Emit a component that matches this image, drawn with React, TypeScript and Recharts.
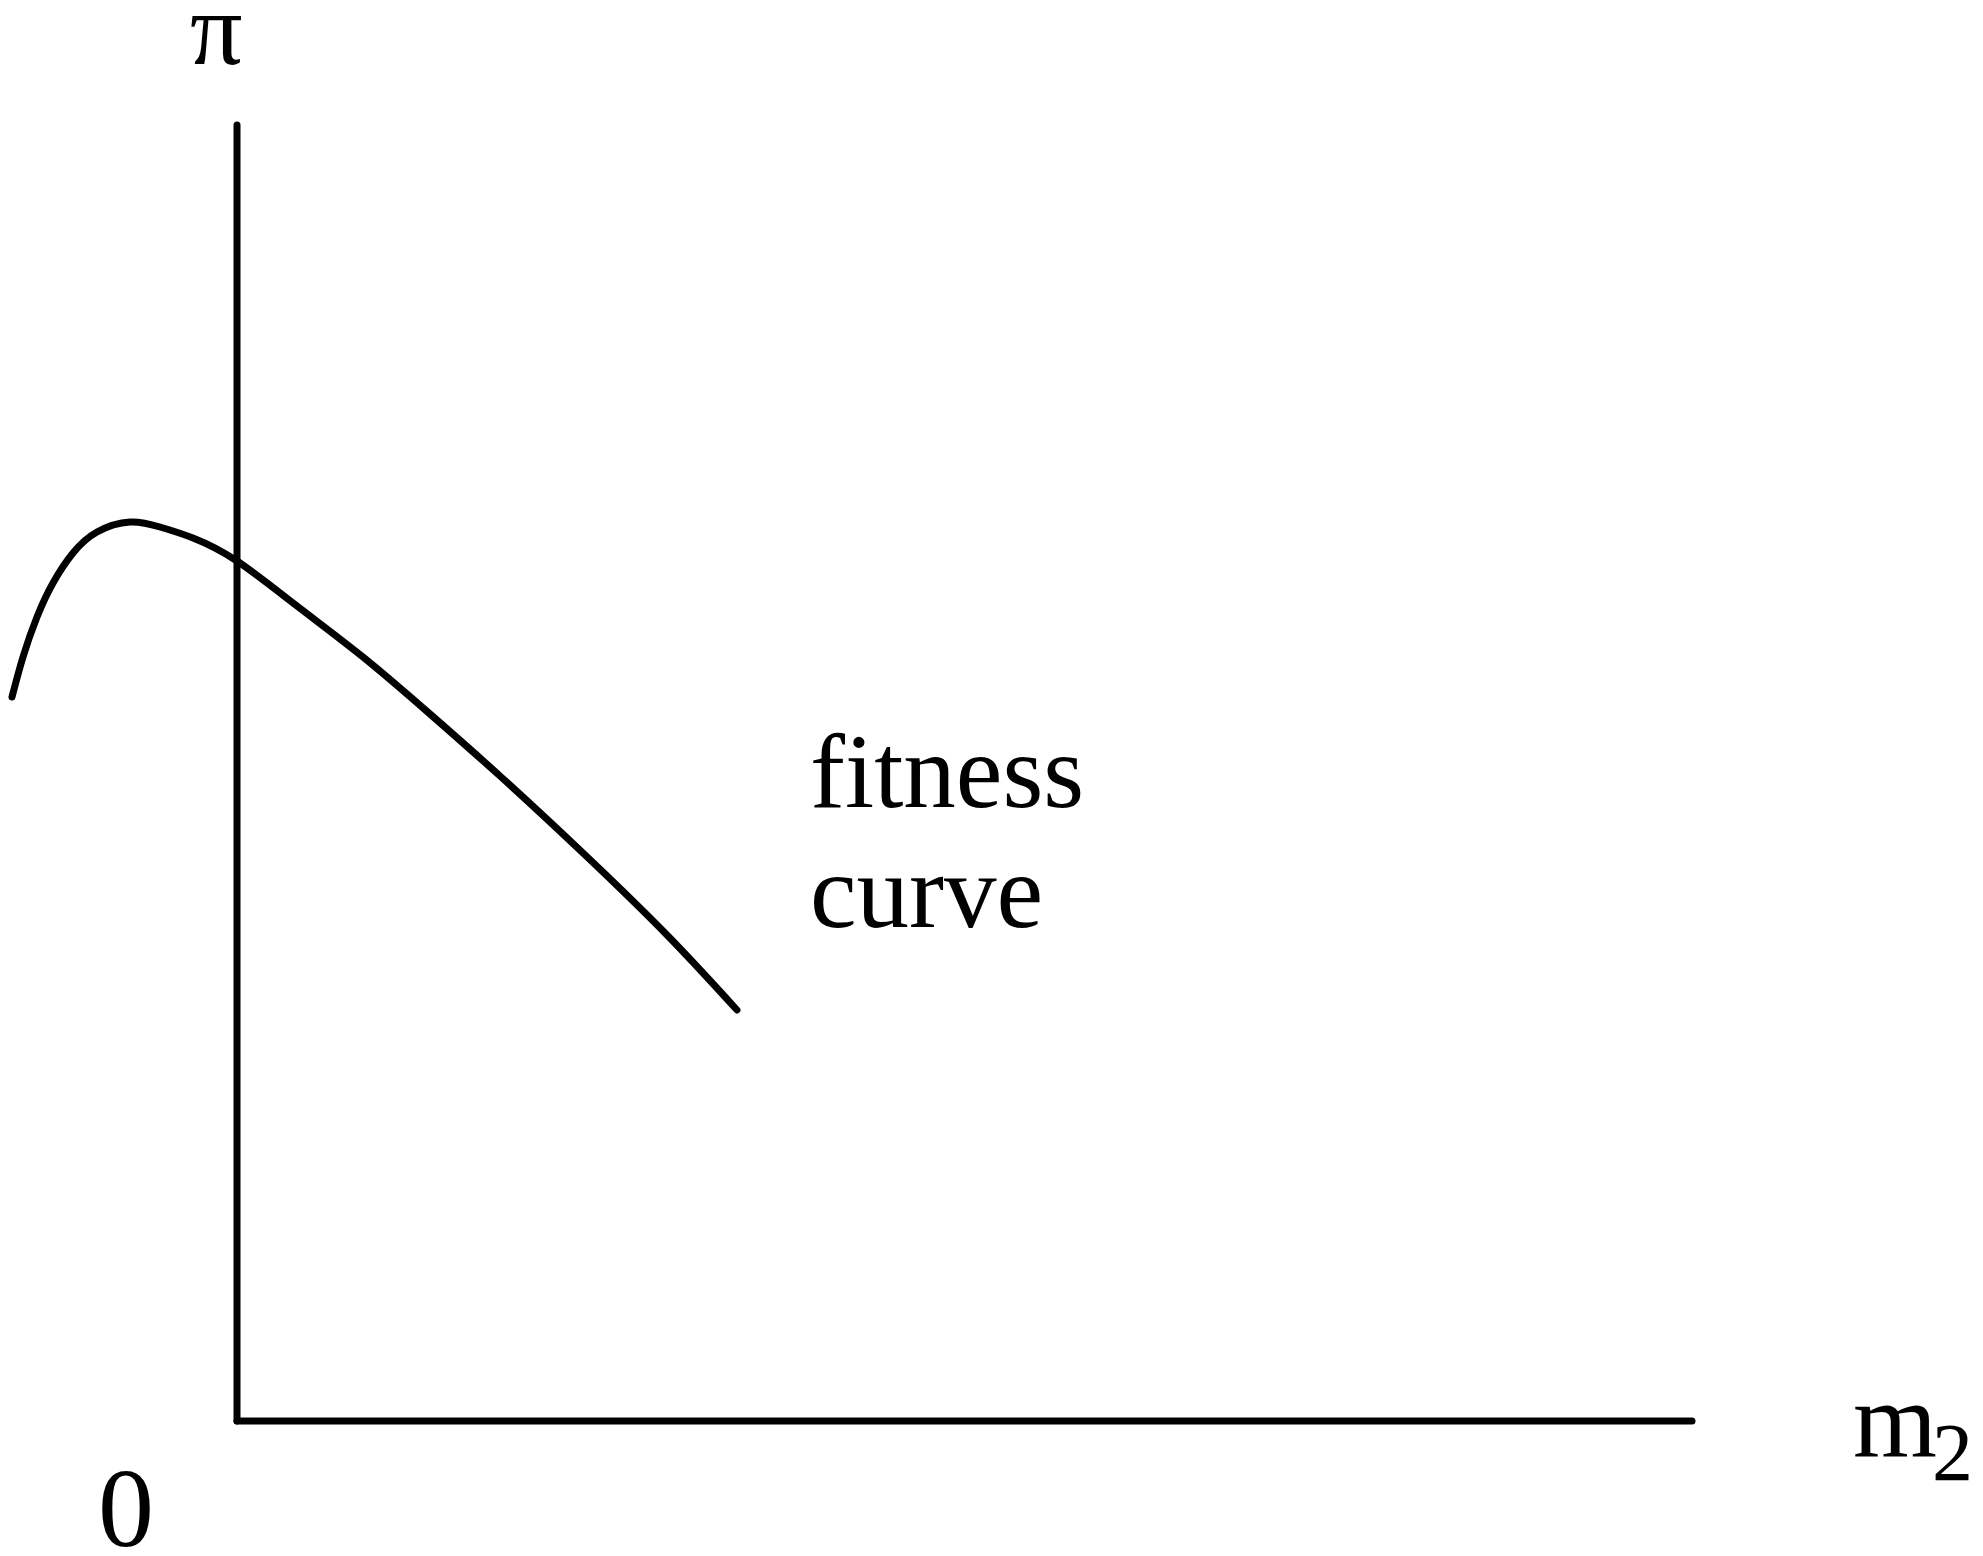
import React from 'react';
import { LineChart, Line, XAxis, YAxis, ReferenceLine } from 'recharts';

// fitness curve (arbitrary units, origin where the axes meet)
const m2Values = [-2.25, -2.14, -2.0, -1.84, -1.64, -1.4, -1.07, -0.77, -0.44, 0, 0.6, 1.26, 1.93, 2.63, 3.46, 4.3, 5.0];
const fitnessValues = [7.24, 7.64, 8.04, 8.38, 8.68, 8.89, 8.99, 8.94, 8.83, 8.6, 8.15, 7.64, 7.07, 6.45, 5.68, 4.86, 4.11];

// axis extents
const xAxisEnd = 14.55;
const yAxisEnd = 12.96;

const WIDTH = 1983;
const HEIGHT = 1556;
const FONT = '"Liberation Serif", "Times New Roman", serif';

const data = m2Values.map((x, i) => ({ x, y: fitnessValues[i] }));

export default function App() {
  return (
    <div style={{ position: 'relative', width: WIDTH, height: HEIGHT, background: '#fff', overflow: 'hidden' }}>
      <style>{'html,body{margin:0;padding:0;overflow:hidden;background:#fff}'}</style>
      <LineChart width={WIDTH} height={HEIGHT} data={data} margin={{ top: 0, right: 0, bottom: 0, left: 0 }}>
        <XAxis type="number" dataKey="x" domain={[-2.37, 17.46]} hide allowDataOverflow />
        <YAxis type="number" domain={[-1.35, 14.21]} hide allowDataOverflow />
        <ReferenceLine
          segment={[{ x: 0, y: 0 }, { x: 0, y: yAxisEnd }]}
          stroke="#000"
          strokeWidth={7}
          strokeLinecap="round"
        />
        <ReferenceLine
          segment={[{ x: 0, y: 0 }, { x: xAxisEnd, y: 0 }]}
          stroke="#000"
          strokeWidth={7}
          strokeLinecap="round"
        />
        <Line
          type="natural"
          dataKey="y"
          stroke="#000"
          strokeWidth={7}
          strokeLinecap="round"
          dot={false}
          activeDot={false}
          isAnimationActive={false}
        />
      </LineChart>
      <svg
        width={WIDTH}
        height={HEIGHT}
        style={{ position: 'absolute', left: 0, top: 0, pointerEvents: 'none' }}
      >
        <g fontFamily={FONT} fill="#000">
          <text x={190} y={64} fontSize={104}>π</text>
          <text x={810} y={807} fontSize={105}>fitness</text>
          <text x={810} y={927} fontSize={105}>curve</text>
          <text x={98} y={1546} fontSize={112}>0</text>
          <text x={1853} y={1457} fontSize={108}>m</text>
          <text x={1932} y={1480} fontSize={82}>2</text>
        </g>
      </svg>
    </div>
  );
}
